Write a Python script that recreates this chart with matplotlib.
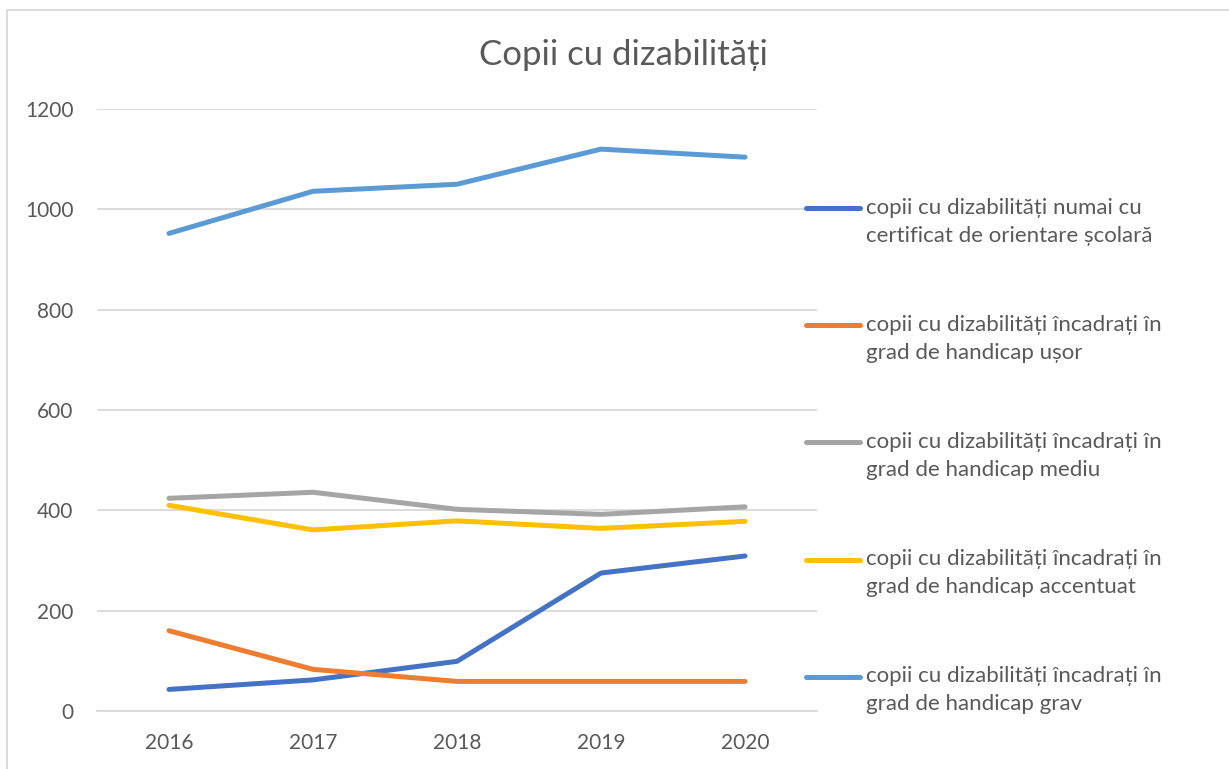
import numpy as np
from matplotlib import pyplot as plt
from matplotlib.patches import Rectangle

plt.rcParams['font.family'] = ['Lato', 'DejaVu Sans']

years = ['2016', '2017', '2018', '2019', '2020']

certificat = [43, 62, 99, 275, 309]
usor = [160, 83, 59, 59, 59]
mediu = [424, 436, 402, 392, 407]
accentuat = [410, 361, 379, 364, 378]
grav = [952, 1036, 1050, 1120, 1104]

labels = ['copii cu dizabilități numai cu\ncertificat de orientare școlară',
          'copii cu dizabilități încadrați în\ngrad de handicap ușor',
          'copii cu dizabilități încadrați în\ngrad de handicap mediu',
          'copii cu dizabilități încadrați în\ngrad de handicap accentuat',
          'copii cu dizabilități încadrați în\ngrad de handicap grav']
colors = ['#4472C4', '#ED7D31', '#A5A5A5', '#FFC000', '#5B9BD5']
series = [certificat, usor, mediu, accentuat, grav]

text_color = '#595959'

fig = plt.figure(figsize=(12.29, 7.69), dpi=100)
ax = fig.add_axes([97/1229, 1 - 711/769, (817-97)/1229, (711-109)/769])

x = np.arange(len(years))
for vals, c, lab in zip(series, colors, labels):
    ax.plot(x, vals, color=c, lw=3.6, solid_capstyle='round', label=lab)

ax.set_xlim(-0.5, len(years) - 0.5)
ax.set_ylim(0, 1200)
ax.set_yticks(range(0, 1201, 200))
ax.set_xticks(x)
ax.set_xticklabels(years)
ax.grid(axis='y', color='#D9D9D9', lw=1.3)
ax.set_axisbelow(True)
for s in ['top', 'right', 'left']:
    ax.spines[s].set_visible(False)
ax.spines['bottom'].set_color('#D9D9D9')
ax.spines['bottom'].set_linewidth(1.3)
ax.tick_params(length=0, labelsize=15, colors=text_color)
ax.tick_params(axis='x', pad=16)
ax.tick_params(axis='y', pad=17)

fig.text(623/1229, 1 - 55/769, 'Copii cu dizabilități', ha='center', va='center',
         fontsize=25, color=text_color)

fs = 16
gap = 28 * 0.72  # distance between the two lines of a label, in points
leg = fig.legend(loc='upper left', bbox_to_anchor=(806/1229, 1 - 198/769),
                 frameon=False, fontsize=fs, labelcolor=text_color,
                 handlelength=39/fs, handletextpad=0.25, labelspacing=3.11,
                 borderpad=0, borderaxespad=0)
for t in leg.get_texts():
    t.set_linespacing(1.5)
# move handles up to the first line of each label
for ln in leg.get_lines():
    ln.set_ydata(np.asarray(ln.get_ydata()) + 0.5 * gap)
    ln.set_linewidth(3.6)

fig.add_artist(Rectangle((7/1229, -0.01), 1.0, 1 - 10/769 + 0.01,
                         transform=fig.transFigure, fill=False,
                         edgecolor='#D9D9D9', lw=1.3))

plt.savefig('out.png', dpi=100)
